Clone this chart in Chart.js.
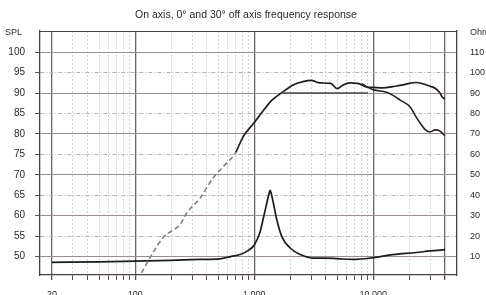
<!DOCTYPE html>
<html>
<head>
<meta charset="utf-8">
<script src="https://cdn.jsdelivr.net/npm/chart.js@4"></script>
<style>
  body { margin: 0; background: #fff; }
  #wrap { width: 486px; height: 295px; }
</style>
</head>
<body>
<div id="wrap"><canvas id="freqChart" width="486" height="295"></canvas></div>
<script>
// low part of the on-axis curve (drawn dashed)
var lowFreq = [113, 138, 171, 200, 238, 271, 350, 450, 560, 664, 700];
var lowSpl  = [46, 50.5, 54.6, 56.2, 57.8, 60.7, 64.3, 69.2, 72.3, 74.5, 75.5];

// on axis, 0 deg
var onFreq = [700, 806, 1000, 1234, 1400, 1740, 2120, 2570, 3000, 3570, 4380, 4970, 5580, 6350, 7390, 8800, 10000, 12100, 14500, 17800, 20000, 22900, 26000, 30000, 33000, 36400, 38000, 40000];
var onSpl  = [75.5, 79.3, 82.8, 86.3, 88.2, 90.3, 92, 92.8, 93.1, 92.5, 92.4, 91.1, 92, 92.5, 92.4, 91.5, 91.4, 91.3, 91.6, 92, 92.4, 92.6, 92.3, 91.7, 91.2, 90, 89, 88.6];

// 30 deg off axis (follows on axis below ~8 kHz)
var offFreq = [8000, 9000, 10000, 12900, 14500, 16800, 20400, 22500, 24700, 27000, 30000, 33000, 36000, 38000, 40000];
var offSpl  = [92.3, 91.4, 90.8, 90.2, 89.5, 88.3, 86.6, 84.5, 82.7, 81.2, 80.5, 81, 80.8, 80.2, 79.6];

// reference line at 90 dB
var refFreq = [1740, 9000];
var refSpl  = [90, 90];

// impedance, ohm (right axis)
var impFreq = [20, 50, 100, 200, 350, 516, 624, 760, 880, 980, 1060, 1118, 1194, 1272, 1320, 1358, 1400, 1449, 1548, 1704, 2000, 2440, 3100, 3970, 5000, 6730, 10000, 14600, 22900, 30000, 40000];
var impOhm  = [7.2, 7.4, 7.8, 8.2, 8.6, 8.9, 9.9, 11, 12.8, 15, 18.5, 22, 29, 36, 40, 42.4, 40, 36, 27.9, 19.8, 14.2, 11, 9.3, 9.3, 9, 8.6, 9.5, 11, 12, 12.8, 13.4];

var xTicks = [20, 30, 40, 50, 60, 70, 80, 90, 100, 200, 300, 400, 500, 600, 700, 800, 900,
  1000, 2000, 3000, 4000, 5000, 6000, 7000, 8000, 9000, 10000, 20000, 30000, 40000];
var xLabels = { 20: '20', 100: '100', 1000: '1,000', 10000: '10,000' };
var xMajor = [20, 100, 1000, 10000, 40000];
var splTicks = [50, 55, 60, 65, 70, 75, 80, 85, 90, 95, 100];
var ohmTicks = [10, 20, 30, 40, 50, 60, 70, 80, 90, 100, 110];

function pts(xs, ys) {
  return xs.map(function (x, i) { return { x: x, y: ys[i] }; });
}
function asTicks(list) {
  return function (s) { s.ticks = list.map(function (v) { return { value: v }; }); };
}

var font = 'Liberation Sans, Arial, sans-serif';

var framePlugin = {
  id: 'frame',
  afterDraw: function (chart) {
    var c = chart.ctx, a = chart.chartArea;
    c.save();
    c.strokeStyle = '#4a4040';
    c.lineWidth = 1.2;
    c.beginPath();
    c.moveTo(a.left, a.top + 0.5);
    c.lineTo(a.right, a.top + 0.5);
    c.stroke();
    c.fillStyle = '#2a2a2a';
    c.font = '10.5px ' + font;
    c.textAlign = 'center';
    c.textBaseline = 'middle';
    c.fillText('On axis, 0\u00b0 and 30\u00b0 off axis frequency response', 246, 15);
    c.textAlign = 'left';
    c.font = '9px ' + font;
    c.fillText('SPL', 5, 33);
    c.fillText('Ohm', 470, 33);
    c.restore();
  }
};

var ctx = document.getElementById('freqChart').getContext('2d');
var freqChart = new Chart(ctx, {
  type: 'line',
  data: {
    datasets: [
      { data: pts(lowFreq, lowSpl), borderColor: '#808080', borderWidth: 1.6, borderDash: [5, 3], yAxisID: 'y' },
      { data: pts(refFreq, refSpl), borderColor: '#555', borderWidth: 1.6, yAxisID: 'y' },
      { data: pts(offFreq, offSpl), borderColor: '#222', borderWidth: 1.6, yAxisID: 'y' },
      { data: pts(onFreq, onSpl), borderColor: '#1c1c1c', borderWidth: 1.7, yAxisID: 'y' },
      { data: pts(impFreq, impOhm), borderColor: '#1c1c1c', borderWidth: 1.7, yAxisID: 'y1' }
    ]
  },
  options: {
    responsive: false,
    animation: false,
    devicePixelRatio: 1,
    layout: { padding: { top: 31, left: 0, right: 0, bottom: 0 } },
    elements: {
      point: { radius: 0 },
      line: { cubicInterpolationMode: 'monotone', fill: false }
    },
    plugins: { legend: { display: false }, tooltip: { enabled: false } },
    scales: {
      x: {
        type: 'logarithmic',
        min: 15.86,
        max: 50450,
        afterBuildTicks: asTicks(xTicks),
        afterFit: function (s) { s.height = 20; },
        ticks: {
          autoSkip: false, maxRotation: 0, padding: 9,
          color: '#2a2a2a', font: { size: 9, family: font },
          callback: function (v) { return xLabels[v] || ''; }
        },
        grid: {
          tickLength: 5,
          color: function (c) { return xMajor.indexOf(c.tick && c.tick.value) >= 0 ? '#6e6464' : '#d2d2d2'; },
          lineWidth: function (c) { return xMajor.indexOf(c.tick && c.tick.value) >= 0 ? 1.3 : 1; },
          tickColor: '#5a5050'
        },
        border: {
          color: '#4a4040', width: 1.3,
          dash: function (c) { return (c.tick && xMajor.indexOf(c.tick.value) < 0) ? [2, 2] : []; }
        }
      },
      y: {
        position: 'left',
        min: 45.5, max: 105.2,
        afterBuildTicks: asTicks(splTicks),
        afterFit: function (s) { s.width = 40; },
        ticks: {
          padding: 10,
          color: '#2a2a2a', font: { size: 10, family: font }
        },
        grid: {
          tickLength: 5,
          color: function (c) {
            var v = c.tick && c.tick.value;
            return v % 10 === 0 ? '#9a8e8e' : '#b8b0b0';
          },
          tickColor: '#5a5050'
        },
        border: {
          color: '#4a4040', width: 1.3,
          dash: function (c) { return (c.tick && c.tick.value % 10 !== 0) ? [4, 2, 1, 2] : []; }
        }
      },
      y1: {
        position: 'right',
        min: 1, max: 120.4,
        afterBuildTicks: asTicks(ohmTicks),
        afterFit: function (s) { s.width = 29; },
        ticks: {
          padding: 13,
          color: '#2a2a2a', font: { size: 9, family: font }
        },
        grid: { display: false, drawTicks: false },
        border: { color: '#4a4040', width: 1.3 }
      }
    }
  },
  plugins: [framePlugin]
});
</script>
</body>
</html>
